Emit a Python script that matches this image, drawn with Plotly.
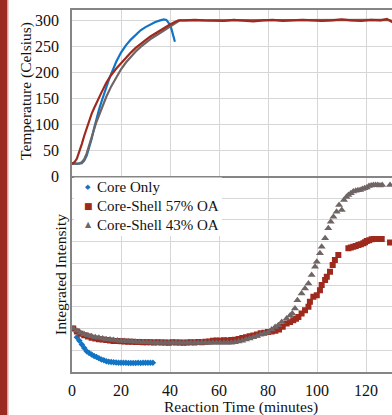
import plotly.graph_objects as go

# ---------------- Temperature (top panel) ----------------
core_temp_t = [0, 2, 4, 5, 6, 7, 8, 9, 10, 11, 12, 13, 14, 15, 16, 17, 18, 20, 22, 24, 26, 28,
               30, 32, 34, 36, 37.5, 38.5, 39.5, 40.5, 41.5, 42]
core_temp_v = [25, 24, 25, 30, 40, 55, 72, 92, 111, 128, 143, 158, 172, 185, 197, 209, 220, 238,
               252, 263, 272, 281, 287, 292, 297, 300, 302, 301, 295, 285, 270, 259]

cs57_temp_t = [0, 1, 2, 3, 4, 5, 6, 7, 8, 9, 10, 12, 14, 16, 18, 20, 22, 24, 26, 28, 30, 32, 34,
               36, 38, 40, 42, 43.5, 46, 50, 54, 58, 62, 66, 70, 74, 78, 82, 86, 90, 94, 98, 102,
               106, 110, 114, 118, 122, 126, 128.5, 131]
cs57_temp_v = [24, 27, 34, 47, 62, 78, 93, 107, 120, 131, 142, 161, 180, 195, 207, 218, 228, 238,
               247, 255, 262, 269, 275, 280, 286, 292, 297, 300, 300, 301, 300, 300, 299, 301, 300,
               298, 300, 301, 299, 300, 301, 300, 299, 300, 302, 300, 299, 301, 300, 303, 296]

cs43_temp_t = [0, 2, 3, 4, 5, 6, 7, 8, 9, 10, 12, 14, 16, 18, 20, 22, 24, 26, 28, 30, 32, 34, 36,
               38, 40, 42, 44, 46, 50, 54, 58, 62, 66, 70, 74, 78, 82, 86, 90, 94, 98, 102, 106,
               110, 114, 118, 122, 126, 128.5, 131]
cs43_temp_v = [24, 24, 25, 27, 33, 44, 58, 74, 90, 105, 130, 153, 173, 190, 206, 219, 230, 240,
               249, 257, 264, 270, 276, 283, 289, 295, 300, 300, 300, 300, 300, 300, 300, 300, 300,
               300, 300, 300, 300, 300, 300, 300, 300, 300, 300, 300, 300, 300, 301, 299]

# ---------------- Integrated intensity (bottom panel) ----------------
core_int_t = [2, 3, 4, 5, 6, 7, 8, 9, 10, 11, 12, 13, 14, 15, 16, 17, 18, 19, 20, 21, 22, 23,
              24, 25, 26, 27, 28, 29, 30, 31, 32, 33]
core_int_v = [1.60, 1.44, 1.26, 1.10, 0.96, 0.87, 0.80, 0.74, 0.69, 0.63, 0.58, 0.54, 0.50, 0.47,
              0.46, 0.45, 0.44, 0.43, 0.43, 0.42, 0.42, 0.41, 0.41, 0.41, 0.41, 0.42, 0.41, 0.42,
              0.42, 0.43, 0.42, 0.43]

cs57_int_t = [0.5, 2, 3.5, 5, 6.5, 8, 9.5, 11, 12.5, 14,
              15.5, 17, 18.5, 20, 21.5, 23, 24.5, 26, 27.5, 29,
              30.5, 32, 33.5, 35, 36.5, 38, 39.5, 41, 42.5, 44,
              45.5, 47, 48.5, 50, 51.5, 53, 54.5, 56, 57.5, 59,
              60.5, 62, 63.5, 65, 66.5, 68, 69.5, 71, 72.5, 74,
              75.5, 77, 78.5, 80, 81.5, 83, 84.5, 86,
              87.6, 89, 90.3, 91.4, 92.4, 93.7, 95.1, 96.5, 97.1, 98.5, 99.9, 101.2, 101.9,
              103.3, 104, 105.3, 106.4, 107.3, 108.7,
              112.8, 113.8, 114.8, 115.8, 116.9, 117.9, 118.9, 119.6, 120.3, 121.3, 122.3,
              123.3, 124.4, 125.4, 126.4, 129.8]
cs57_int_v = [2.0, 1.86, 1.76, 1.69, 1.63, 1.58, 1.54, 1.51, 1.49, 1.47,
              1.45, 1.43, 1.42, 1.41, 1.40, 1.39, 1.39, 1.38, 1.38, 1.37,
              1.37, 1.37, 1.36, 1.37, 1.36, 1.36, 1.35, 1.37, 1.36, 1.36,
              1.35, 1.36, 1.37, 1.36, 1.38, 1.37, 1.39, 1.40, 1.44, 1.45,
              1.44, 1.46, 1.45, 1.47, 1.48, 1.52, 1.56, 1.60, 1.64, 1.68,
              1.72, 1.78, 1.80, 1.84, 1.86, 1.90, 1.96, 2.08,
              2.23, 2.30, 2.38, 2.45, 2.53, 2.69, 2.84, 3.00, 3.23, 3.46, 3.53, 3.76, 4.00,
              4.23, 4.38, 4.61, 4.92, 5.15, 5.38,
              5.69, 5.72, 5.76, 5.80, 5.84, 5.88, 5.92, 5.97, 6.02, 6.06, 6.10,
              6.12, 6.12, 6.12, 6.12, 5.96]

cs43_int_t = [0.5, 2, 3.5, 5, 6.5, 8, 9.5, 11, 12.5, 14,
              15.5, 17, 18.5, 20, 21.5, 23, 24.5, 26, 27.5, 29,
              30.5, 32, 33.5, 35, 36.5, 38, 39.5, 41, 42.5, 44,
              45.5, 47, 48.5, 50, 51.5, 53, 54.5, 56, 57.5, 59,
              60.5, 62, 63.5, 65, 66.5, 68, 69.5, 71, 72.5, 74,
              75.5, 77, 78.5,
              80, 81.5, 82.9, 84.2, 85.6, 87.6, 89.0, 89.9, 91.0, 92.0, 93.7, 95.1, 96.5, 97.8,
              99.2, 99.9, 101.2, 101.9, 103.3, 104.6, 105.6, 106.7, 108.0, 109.0, 110.1, 111.0,
              112.0, 112.8, 113.8, 114.8, 115.8, 116.7, 117.6, 118.5, 119.4, 120.3, 121.2,
              122.1, 123.0, 123.9, 124.8, 125.7, 126.6, 129.8]
cs43_int_v = [2.0, 1.90, 1.80, 1.74, 1.69, 1.64, 1.60, 1.57, 1.54, 1.51,
              1.49, 1.47, 1.45, 1.43, 1.42, 1.41, 1.40, 1.39, 1.38, 1.37,
              1.37, 1.36, 1.35, 1.35, 1.35, 1.35, 1.35, 1.35, 1.35, 1.35,
              1.35, 1.34, 1.34, 1.34, 1.34, 1.34, 1.34, 1.34, 1.34, 1.34,
              1.34, 1.34, 1.35, 1.35, 1.37, 1.40, 1.44, 1.49, 1.54, 1.60,
              1.66, 1.72, 1.78,
              1.82, 1.95, 2.07, 2.15, 2.30, 2.46, 2.60, 2.69, 2.92, 3.30, 3.61, 3.84, 4.07, 4.46,
              4.84, 5.07, 5.46, 5.76, 6.15, 6.61, 6.91, 7.14, 7.37, 7.68, 7.45, 7.91,
              8.05, 8.14, 8.22, 8.30, 8.33, 8.36, 8.37, 8.42, 8.45, 8.48, 8.55,
              8.58, 8.60, 8.60, 8.60, 8.58, 8.60, 8.60]

series_names = ["Core Only", "Core-Shell 57% OA", "Core-Shell 43% OA"]
x_ticks = [0, 20, 40, 60, 80, 100, 120]
temp_ticks = [0, 50, 100, 150, 200, 250, 300]

BLUE = "#1274c4"
RED = "#9e2a1e"
GRAY = "#6f6565"
FONT = "Liberation Serif, Times New Roman, Times, DejaVu Serif, serif"
AXIS = "#858585"
GRID = "#d6d6d6"

fig = go.Figure()
# top panel lines
fig.add_trace(go.Scatter(x=core_temp_t, y=core_temp_v, mode="lines", line=dict(color=BLUE, width=2.2),
                         xaxis="x2", yaxis="y2", showlegend=False))
fig.add_trace(go.Scatter(x=cs43_temp_t, y=cs43_temp_v, mode="lines", line=dict(color=GRAY, width=2.2),
                         xaxis="x2", yaxis="y2", showlegend=False))
fig.add_trace(go.Scatter(x=cs57_temp_t, y=cs57_temp_v, mode="lines", line=dict(color=RED, width=2.2),
                         xaxis="x2", yaxis="y2", showlegend=False))
# bottom panel markers
fig.add_trace(go.Scatter(x=core_int_t, y=core_int_v, mode="markers", name=series_names[0],
                         marker=dict(symbol="diamond", size=5, color=BLUE), xaxis="x", yaxis="y",
                         showlegend=False))
fig.add_trace(go.Scatter(x=cs57_int_t, y=cs57_int_v, mode="markers", name=series_names[1],
                         marker=dict(symbol="square", size=6, color=RED), xaxis="x", yaxis="y",
                         showlegend=False))
fig.add_trace(go.Scatter(x=cs43_int_t, y=cs43_int_v, mode="markers", name=series_names[2],
                         marker=dict(symbol="triangle-up", size=7, color=GRAY), xaxis="x", yaxis="y",
                         showlegend=False))

H_PLOT = 362.0
def py(p):
    return (372 - p) / H_PLOT
def px(p):
    return (p - 72) / 320.0

split = 195.7 / H_PLOT

# hand-made legend (text + coloured symbol glyphs)
legend_rows_y = [187.3, 206.0, 224.5]
legend_symbols = ["◆", "■", "▲"]
legend_sym_sizes = [7, 9, 8]
legend_colors = [BLUE, RED, GRAY]

annotations = [
    dict(text="Temperature (Celsius)", xref="paper", yref="paper", x=px(26), y=py(91),
         textangle=-90, showarrow=False, xanchor="center", yanchor="middle",
         font=dict(family=FONT, size=15.5, color="#111")),
    dict(text="Integrated Intensity", xref="paper", yref="paper", x=px(60), y=py(275),
         textangle=-90, showarrow=False, xanchor="center", yanchor="middle",
         font=dict(family=FONT, size=15.5, color="#111")),
    dict(text="Reaction Time (minutes)", xref="paper", yref="paper", x=px(240.8), y=py(406.5),
         showarrow=False, xanchor="center", yanchor="middle",
         font=dict(family=FONT, size=15.5, color="#111")),
]
for name, sym, ssz, col, yy in zip(series_names, legend_symbols, legend_sym_sizes,
                                   legend_colors, legend_rows_y):
    annotations.append(dict(text=sym, xref="paper", yref="paper", x=px(88), y=py(yy),
                            showarrow=False, xanchor="center", yanchor="middle",
                            font=dict(family="DejaVu Sans", size=ssz, color=col)))
    annotations.append(dict(text=name, xref="paper", yref="paper", x=px(94.5), y=py(yy),
                            showarrow=False, xanchor="left", yanchor="middle",
                            font=dict(family=FONT, size=15, color="#111")))

fig.update_layout(
    width=392, height=415,
    margin=dict(l=72, r=0, t=10, b=43, autoexpand=False),
    paper_bgcolor="white", plot_bgcolor="white",
    font=dict(family=FONT, size=16, color="#111"),
    showlegend=False,
    xaxis=dict(domain=[0, 1], anchor="y", range=[0, 130.6], tickvals=x_ticks,
               showgrid=True, gridcolor=GRID, zeroline=False, automargin=False,
               showline=True, linecolor=AXIS, linewidth=1.5, ticks="", ticklabelstandoff=3,
               tickfont=dict(family=FONT, size=16, color="#111")),
    yaxis=dict(domain=[0, split], anchor="x", range=[0, 9], dtick=1, showticklabels=False,
               showgrid=True, gridcolor=GRID, zeroline=False, automargin=False,
               showline=True, linecolor=AXIS, linewidth=1.5, ticks=""),
    xaxis2=dict(domain=[0, 1], anchor="y2", matches="x", range=[0, 130.6], tickvals=x_ticks,
                showticklabels=False, showgrid=True, gridcolor=GRID, zeroline=False,
                automargin=False,
                showline=True, mirror=True, linecolor=AXIS, linewidth=1.5, ticks=""),
    yaxis2=dict(domain=[split, 1], anchor="x2", range=[0, 320], tickvals=temp_ticks,
                showgrid=True, gridcolor=GRID, zeroline=False, automargin=False,
                showline=True, linecolor=AXIS, linewidth=1.5, ticks="", ticklabelstandoff=8,
                tickfont=dict(family=FONT, size=16, color="#111")),
    shapes=[
        dict(type="rect", xref="paper", yref="paper", x0=px(0), x1=px(7), y0=py(415), y1=py(0),
             fillcolor="#9b2b20", line=dict(width=0), layer="above"),
        dict(type="rect", xref="paper", yref="paper", x0=px(7), x1=px(8.5), y0=py(415), y1=py(0),
             fillcolor="#d4a49f", line=dict(width=0), layer="above"),
        dict(type="rect", xref="paper", yref="paper", x0=px(74), x1=px(222), y0=py(236), y1=py(177.5),
             fillcolor="white", line=dict(width=0), layer="above"),
    ],
    annotations=annotations,
)

fig.write_html("out.html", config={"displayModeBar": False},
               post_script="document.body.style.margin='0';document.body.style.padding='0';")
